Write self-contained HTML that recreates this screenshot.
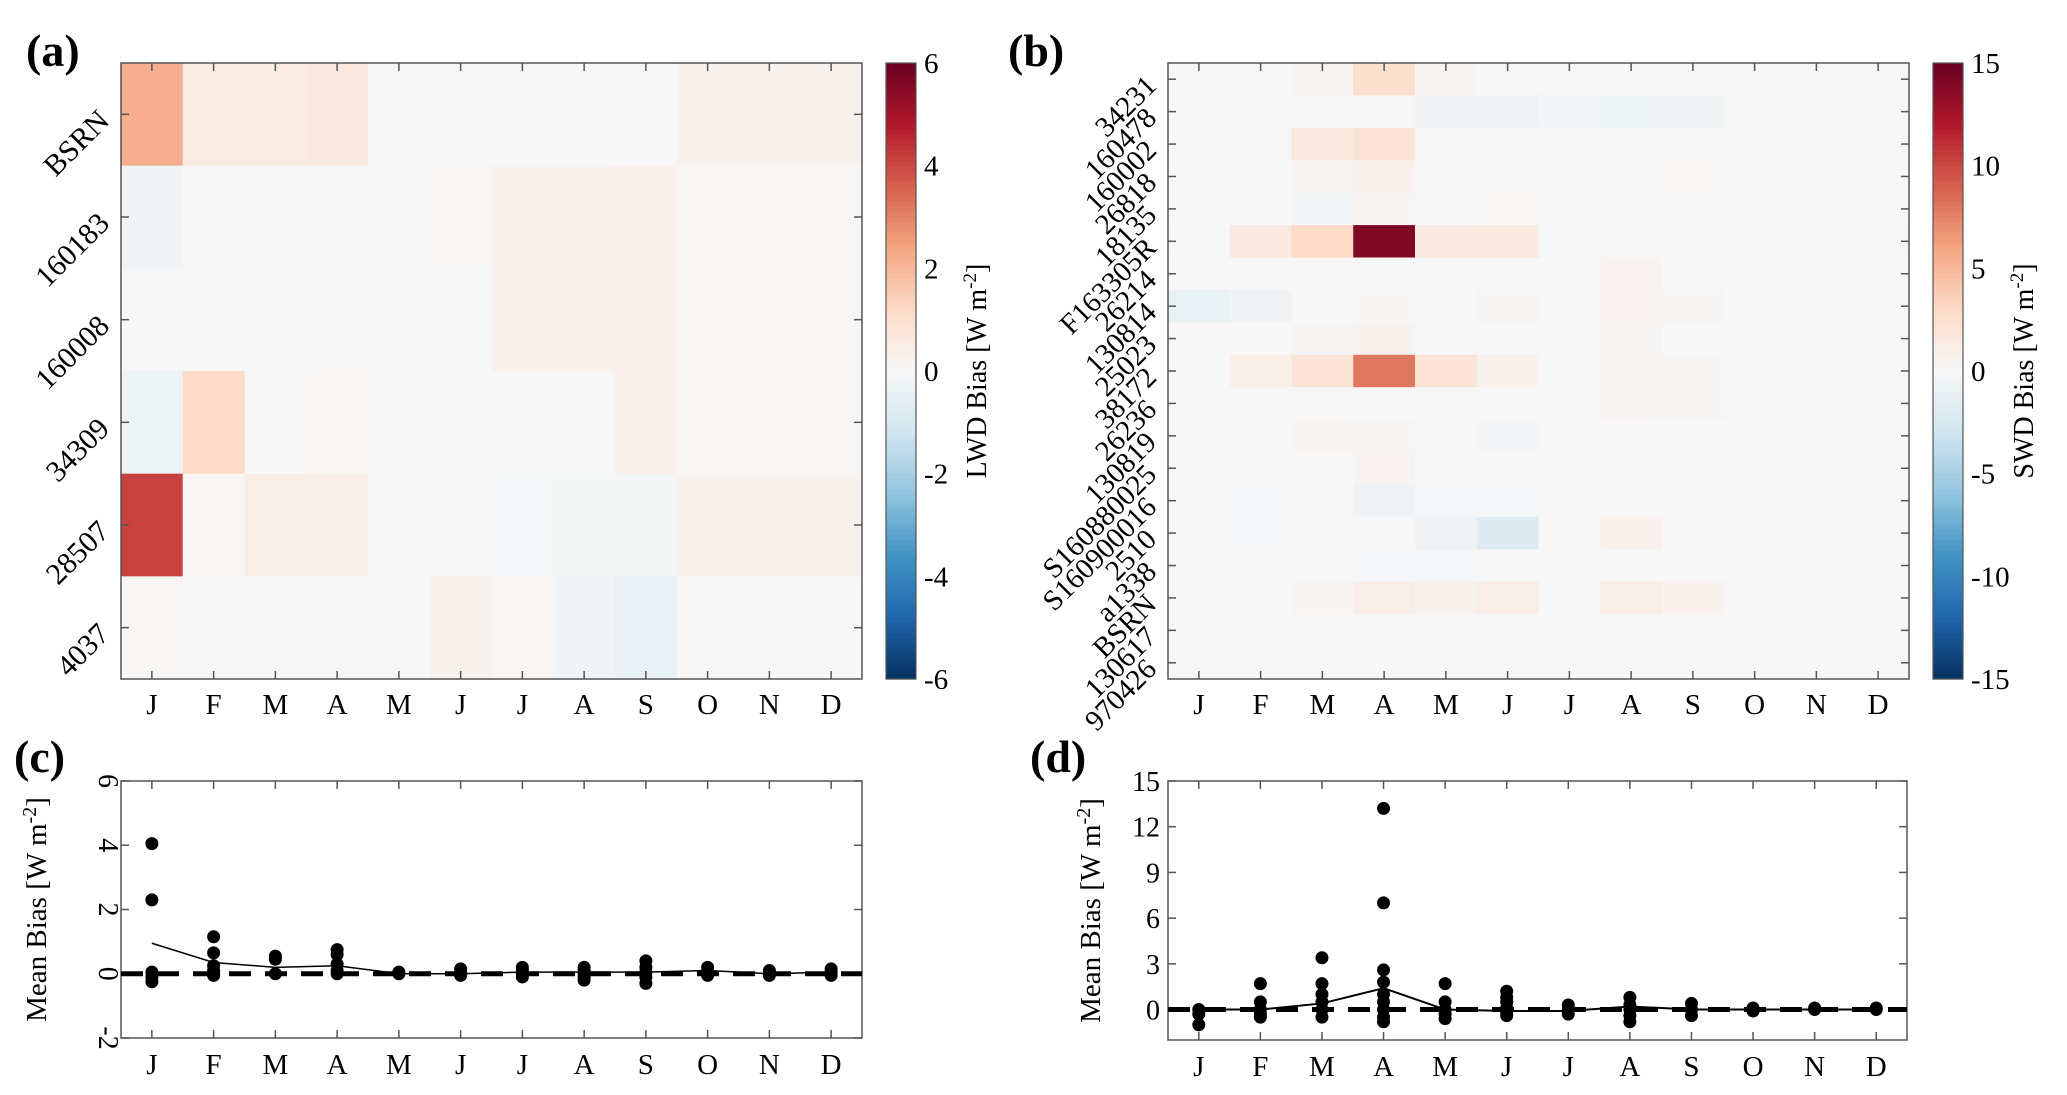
<!DOCTYPE html>
<html><head><meta charset="utf-8"><style>
html,body{margin:0;padding:0;background:#fff;}
svg, svg text{font-family:"Liberation Serif","DejaVu Serif",serif;}
</style></head><body>
<svg id="fig" width="2067" height="1090" viewBox="0 0 2067 1090" xmlns="http://www.w3.org/2000/svg" font-family="Liberation Serif, serif"></svg>
<script>
const months = ['J','F','M','A','M','J','J','A','S','O','N','D'];
const lwdStations = ['BSRN','160183','160008','34309','28507','4037'];
const lwdBias = [
 [2.2,0.5,0.5,0.6,0,0,0,0,0,0.2,0.2,0.2],
 [-0.2,0,0,0,0,0.05,0.2,0.2,0.3,0.05,0.05,0.05],
 [0,0,0,0,0,0,0.2,0.2,0.3,0.1,0.05,0.05],
 [-0.3,1.2,0,0.1,0,0,0,0,0.3,0.1,0.05,0.05],
 [4.1,0.1,0.4,0.4,0,0,-0.05,-0.1,-0.1,0.2,0.2,0.2],
 [0.05,0,0,0,0,0.2,0.1,-0.2,-0.4,0,0,0]
];
const swdStations = ['34231','160478','160002','26818','18135','F163305R','26214','130814','25023','38172','26236','130819','S160880025','S160900016','2510','a1338','BSRN','130617','970426'];
const swdBias = [
 [0,0,0.3,2.5,0.3,0,0,0,0,0,0,0],
 [0,0,0,0,-0.5,-0.6,-0.3,-0.7,-0.5,0,0,0],
 [0,0,1.5,2,-0.1,0,0,0,0,0,0,0],
 [0,0,0.3,0.6,0,0,0,0,0.1,0,0,0],
 [0,0,-0.4,0.3,0,0.1,0,0,0,0,0,0],
 [-0.1,1.5,3,14,1.5,1.5,0,0,0,-0.1,0,-0.1],
 [0,0,0,0,0,0,0,0.4,0,0,0,0],
 [-1,-0.6,0,0.2,0,0.2,0,0.4,0.2,0,0,0],
 [0,0,0.2,0.5,0,0,0,0.2,0,0,0,0],
 [0,0.8,2,8,2,0.5,0,0.3,0.2,-0.1,0,0],
 [0,0,0,0,0,0,0,0.3,0.2,-0.1,0,0],
 [0,0,0.3,0.2,0,-0.3,0,0,0,0,0,0],
 [0,0,0,0.4,0,0,0,0,0,0,0,0],
 [0,-0.2,0,-0.6,-0.2,-0.2,0,0,0,-0.1,-0.1,0],
 [0,-0.2,0,0,-0.6,-2,0,0.6,0,0,0,0],
 [0,0,0,-0.2,-0.2,0,0,0,0,0,0,0],
 [0,0,0.3,1,0.5,1,0,1,0.6,0,0,0],
 [0,0,0,0,0,0,0,0,0,0,0,0],
 [0,0,0,0,0,0,0,0,0,0,0,0]
];
const lwdPoints = [
 [4.05,2.3,0.05,-0.1,-0.25],[1.15,0.65,0.25,0.1,0,-0.05],[0.55,0.45,0],[0.75,0.6,0.3,0.1,0],
 [0.05,0],[0.15,0.05,-0.05],[0.2,0.1,0,-0.1],[0.2,0.1,0,-0.1,-0.2],[0.4,0.2,0.05,-0.1,-0.3],
 [0.2,0.05,-0.05],[0.1,0,-0.05],[0.15,0.05,-0.05]
];
const lwdMean = [0.95,0.35,0.2,0.25,0,0,0.05,0.05,0.05,0.1,0,0.05];
const swdPoints = [
 [0,-0.3,-1],[1.7,0.5,0,-0.3,-0.5],[3.4,1.7,1,0.5,0,-0.5],[13.2,7,2.6,1.8,1,0.5,0,-0.5,-0.8],
 [1.7,0.5,0,-0.3,-0.6],[1.2,0.8,0.5,0.1,-0.2,-0.4],[0.3,0,-0.3],[0.8,0.3,0,-0.4,-0.8],
 [0.4,0,-0.4],[0.1,-0.1],[0.1,0],[0.1,0]
];
const swdMean = [0,0,0.4,1.4,0,-0.1,-0.1,0.2,0,0,0,0];
const lwdTicks = [6,4,2,0,-2,-4,-6];
const swdTicks = [15,10,5,0,-5,-10,-15];
const cTicks = [6,4,2,0,-2];
const dTicks = [15,12,9,6,3,0];

const NS='http://www.w3.org/2000/svg';
const svg=document.getElementById('fig');
const FF='"Liberation Serif", "DejaVu Serif", serif';
function el(tag,attrs,parent){const e=document.createElementNS(NS,tag);for(const k in attrs)e.setAttribute(k,attrs[k]);if(tag==='text')e.setAttribute('font-family',FF);(parent||svg).appendChild(e);return e;}
const stops=[[-1,[5,48,97]],[-0.8,[33,102,172]],[-0.6,[67,147,195]],[-0.4,[146,197,222]],[-0.2,[209,229,240]],[0,[247,247,247]],[0.2,[253,219,199]],[0.4,[244,165,130]],[0.6,[214,96,77]],[0.8,[178,24,43]],[1,[103,0,31]]];
function cmap(t){t=Math.max(-1,Math.min(1,t));for(let i=0;i<stops.length-1;i++){const a=stops[i],b=stops[i+1];if(t<=b[0]){const f=(t-a[0])/(b[0]-a[0]);const c=a[1].map((v,j)=>Math.round(v+(b[1][j]-v)*f));return `rgb(${c[0]},${c[1]},${c[2]})`;}}return 'rgb(103,0,31)';}

function panelLabel(txt,x,y,name){const t=el('text',{x:x,y:y,'font-size':46,'font-weight':'bold'});t.textContent=txt;}

function heatmap(o){
 const g=el('g',{});
 const W=o.x1-o.x0,H=o.y1-o.y0,nr=o.rows.length,cw=W/12,rh=H/nr;
 const xs=c=>o.x0+c*cw, ys=r=>o.y0+r*rh;
 o.data.forEach((row,r)=>row.forEach((v,c)=>{
  const cell=el('rect',{x:xs(c),y:ys(r),width:cw+0.6,height:rh+0.6,fill:cmap(v/o.max)},g);
  
  
 }));
 el('rect',{x:o.x0,y:o.y0,width:W,height:H,fill:'none',stroke:'#555','stroke-width':1.5},g);
 months.forEach((m,c)=>{const cx=xs(c)+cw/2;
  el('line',{x1:cx,y1:o.y0,x2:cx,y2:o.y0+8,stroke:'#555','stroke-width':1.5},g);
  el('line',{x1:cx,y1:o.y1,x2:cx,y2:o.y1-8,stroke:'#555','stroke-width':1.5},g);
  const t=el('text',{x:cx,y:o.y1+35,'font-size':29,'text-anchor':'middle'},g);t.textContent=m;
  });
 o.rows.forEach((s,r)=>{const cy=ys(r)+rh/2;
  el('line',{x1:o.x0,y1:cy,x2:o.x0+8,y2:cy,stroke:'#555','stroke-width':1.5},g);
  el('line',{x1:o.x1,y1:cy,x2:o.x1-8,y2:cy,stroke:'#555','stroke-width':1.5},g);
  const t=el('text',{x:0,y:0,'font-size':o.fs,'text-anchor':'end',transform:`translate(${o.x0-10},${cy+8}) rotate(-45)`},g);t.textContent=s;
  });
 const cb=el('g',{},g);
 const n=120,ch=(o.y1-o.y0)/n;
 for(let i=0;i<n;i++){el('rect',{x:o.cbx,y:o.y0+i*ch,width:30,height:ch+0.6,fill:cmap(1-2*(i+0.5)/n)},cb);}
 el('rect',{x:o.cbx,y:o.y0,width:30,height:H,fill:'none',stroke:'#555','stroke-width':1.2},cb);
 o.ticks.forEach(v=>{const y=o.y0+(o.max-v)/(2*o.max)*H;
  const t=el('text',{x:o.cbx+38,y:y+10,'font-size':29},cb);t.textContent=v;
  });
 const lbl=el('text',{x:0,y:0,'font-size':28,'text-anchor':'middle',transform:`translate(${o.cbx+100},${(o.y0+o.y1)/2}) rotate(-90)`},cb);
 lbl.innerHTML=o.label+' [W m<tspan dy="-10" font-size="19">-2</tspan><tspan dy="10">]</tspan>';
 
}

function scatter(o){
 const g=el('g',{});
 const W=o.x1-o.x0,H=o.y1-o.y0,cw=W/12;
 const xs=c=>o.x0+(c+0.5)*cw, ys=v=>o.y1-(v-o.ymin)/(o.ymax-o.ymin)*H;
 el('rect',{x:o.x0,y:o.y0,width:W,height:H,fill:'none',stroke:'#555','stroke-width':1.5},g);
 months.forEach((m,c)=>{const cx=xs(c);
  el('line',{x1:cx,y1:o.y0,x2:cx,y2:o.y0+8,stroke:'#555','stroke-width':1.5},g);
  el('line',{x1:cx,y1:o.y1,x2:cx,y2:o.y1-8,stroke:'#555','stroke-width':1.5},g);
  const t=el('text',{x:cx,y:o.y1+36,'font-size':29,'text-anchor':'middle'},g);t.textContent=m;
  });
 o.ticks.forEach(v=>{const y=ys(v);
  el('line',{x1:o.x0,y1:y,x2:o.x0+8,y2:y,stroke:'#555','stroke-width':1.5},g);
  el('line',{x1:o.x1,y1:y,x2:o.x1-8,y2:y,stroke:'#555','stroke-width':1.5},g);
  const t=el('text',{x:0,y:0,'font-size':28,'text-anchor':o.rot?'middle':'end',transform:o.rot?`translate(${o.x0-22},${y}) rotate(90)`:`translate(${o.x0-8},${y+10})`},g);t.textContent=v;
  });
 const yl=el('text',{x:0,y:0,'font-size':29,'text-anchor':'middle',transform:`translate(${o.ylx},${(o.y0+o.y1)/2}) rotate(-90)`},g);
 yl.innerHTML='Mean Bias [W m<tspan dy="-10" font-size="20">-2</tspan><tspan dy="10">]</tspan>';
 
 const z=el('line',{x1:o.x0,y1:ys(0),x2:o.x1,y2:ys(0),stroke:'#000','stroke-width':5,'stroke-dasharray':'22,14'},g);
 
 o.pts.forEach((arr,c)=>arr.forEach(v=>{const p=el('circle',{cx:xs(c),cy:ys(v),r:6.5,fill:'#000'},g);
  }));
 const ml=el('polyline',{points:o.mean.map((v,c)=>xs(c)+','+ys(v)).join(' '),fill:'none',stroke:'#000','stroke-width':o.lw},g);
 
}

panelLabel('(a)',26,66,'panel-label-a');
panelLabel('(b)',1008,66,'panel-label-b');
panelLabel('(c)',14,772,'panel-label-c');
panelLabel('(d)',1030,772,'panel-label-d');
heatmap({name:'lwd-heatmap',x0:121,x1:862,y0:63,y1:679,rows:lwdStations,data:lwdBias,max:6,ticks:lwdTicks,cbx:886,label:'LWD Bias',fs:30});
heatmap({name:'swd-heatmap',x0:1168,x1:1909,y0:63,y1:679,rows:swdStations,data:swdBias,max:15,ticks:swdTicks,cbx:1933,label:'SWD Bias',fs:29});
scatter({name:'lwd-mean-bias-chart',x0:121,x1:862,y0:781,y1:1038,ymin:-2,ymax:6,ticks:cTicks,pts:lwdPoints,mean:lwdMean,rot:true,ylx:46,lw:1.5});
scatter({name:'swd-mean-bias-chart',x0:1168,x1:1907,y0:781,y1:1040,ymin:-2,ymax:15,ticks:dTicks,pts:swdPoints,mean:swdMean,rot:false,ylx:1100,lw:2});
</script>
</body></html>
